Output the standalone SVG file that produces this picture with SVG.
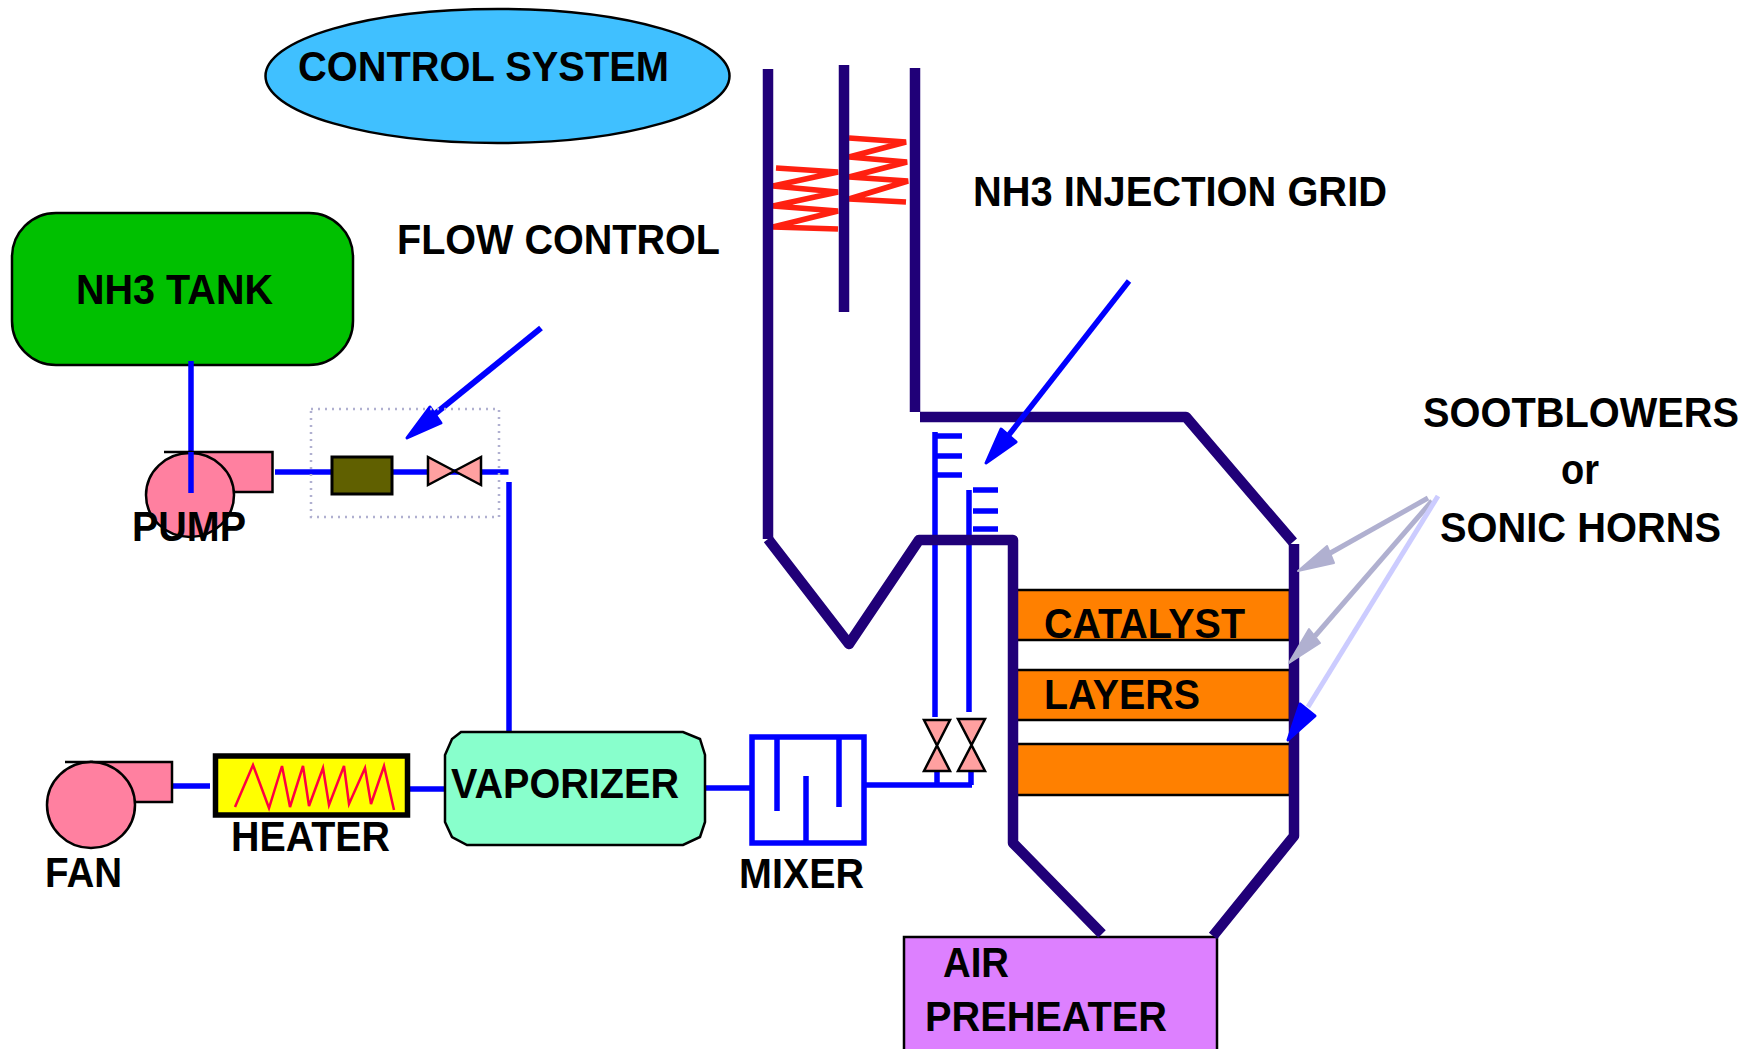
<svg xmlns="http://www.w3.org/2000/svg" width="1758" height="1049" viewBox="0 0 1758 1049">
<style>
text{font-family:"Liberation Sans",Arial,sans-serif;font-weight:700;font-size:42.500px;fill:#000}
.o{stroke:#000;stroke-width:2.5}
.pk{fill:#ff80a0;stroke:#000;stroke-width:2.5}
.v{fill:#ffa0a0;stroke:#000;stroke-width:2.5}
.b{fill:none;stroke:#0000ff;stroke-width:5.5}
.w{fill:none;stroke:#200078;stroke-width:10.500;stroke-linejoin:round}
.c{fill:none;stroke:#ff2010;stroke-width:5.5}
.l{fill:#ff8000;stroke:#000;stroke-width:2.5}
.h{fill:#0000ff;stroke:#0000ff;stroke-width:3;stroke-linejoin:round}
.g{fill:#b0b0d0;stroke:#b0b0d0;stroke-width:2;stroke-linejoin:round}
</style>
<g id="control-system"><ellipse cx="497.500" cy="76" rx="232" ry="67" fill="#40c0ff" class="o"/><text x="298" y="81" textLength="371" lengthAdjust="spacingAndGlyphs">CONTROL SYSTEM</text></g>
<g id="nh3-tank"><rect x="12" y="213" width="341" height="152" rx="44" fill="#00c000" class="o"/><text x="76" y="304" textLength="197" lengthAdjust="spacingAndGlyphs">NH3 TANK</text></g>
<g id="air-preheater"><rect x="904" y="937" width="313" height="125" fill="#dd80ff" class="o"/><text x="943" y="977" textLength="66" lengthAdjust="spacingAndGlyphs">AIR</text><text x="925" y="1031" textLength="242" lengthAdjust="spacingAndGlyphs">PREHEATER</text></g>
<g id="catalyst-layers">
<rect x="1015" y="590" width="275" height="50" class="l"/><rect x="1015" y="670" width="275" height="50" class="l"/><rect x="1015" y="744" width="275" height="51" class="l"/>
<text x="1044" y="638" textLength="201" lengthAdjust="spacingAndGlyphs">CATALYST</text><text x="1044" y="709" textLength="156" lengthAdjust="spacingAndGlyphs">LAYERS</text></g>
<g id="connectors">
<path class="b" d="M191 361V493"/>
<path class="b" d="M275 472H508.500"/>
<path class="b" d="M509 482V733"/>
<path class="b" d="M172 786H210M410 789H445M705 788H751"/>
<path class="b" d="M865 785H972M937 772V785M971 772V785"/>
<path class="b" d="M935 432V717M935 436H962M935 456H962M935 475H962"/>
<path class="b" d="M969 490V712M973 490H998M973 511H998M973 529H998"/>
</g>
<g id="coils">
<path class="c" d="M776 168L838 172L773 186L838 192L773 206L838 211L773 227L838 229"/>
<path class="c" d="M849 138L906 142L849 157L907 162L849 177L908 181L849 199L906 202"/>
</g>
<g id="reactor-walls">
<path class="w" d="M768 69V539"/><path class="w" d="M844 65V312"/><path class="w" d="M915 68V412"/>
<path class="w" d="M920 417H1186L1293 542"/>
<path class="w" d="M768 539L849 644L919 540H1013V843L1102 934"/>
<path class="w" d="M1294 544V836L1213 936"/>
</g>
<g id="arrows">
<g id="flow-arrow"><path d="M541 328L425 422" fill="none" stroke="#0000ff" stroke-width="6"/><path d="M407 438L430 407L441 423Z" class="h"/></g>
<g id="grid-arrow"><path d="M1129 281L1008 436" fill="none" stroke="#0000ff" stroke-width="5.500"/><path d="M986 463L1001 429L1016 442Z" class="h"/></g>
<g id="soot-arrows">
<path d="M1428 498L1325 556" fill="none" stroke="#b0b0d0" stroke-width="5"/><path d="M1298 571L1327 546L1334 563Z" class="g"/>
<path d="M1432 501L1315 636" fill="none" stroke="#b0b0d0" stroke-width="5"/><path d="M1289 663L1309 629L1320 643Z" class="g"/>
<path d="M1438 496L1308 707" fill="none" stroke="#ccccff" stroke-width="5"/><path d="M1288 740L1300 704L1315 716Z" class="h"/>
</g>
</g>
<g id="pump"><path class="pk" d="M190 452H272.500V492H190Z"/><path d="M164 452H192" fill="none" stroke="#000" stroke-width="2.500"/><ellipse cx="190" cy="495" rx="44" ry="42" class="pk"/><path d="M191 452V493" class="b"/><text x="132" y="541" textLength="114" lengthAdjust="spacingAndGlyphs">PUMP</text></g>
<g id="flow-control"><rect x="311" y="409" width="188" height="108" fill="none" stroke="#b0b0d0" stroke-width="2.500" stroke-dasharray="2 5"/><rect x="332" y="457" width="60" height="37" fill="#606000" stroke="#000" stroke-width="3"/><path class="v" d="M428 457V485L481 457V485Z"/></g>
<g id="fan"><path class="pk" d="M91 762H172V802H91Z"/><path d="M65 762H93" fill="none" stroke="#000" stroke-width="2.500"/><ellipse cx="91" cy="805" rx="44" ry="43" class="pk"/><text x="45" y="887" textLength="77" lengthAdjust="spacingAndGlyphs">FAN</text></g>
<g id="heater"><rect x="215.500" y="756" width="192" height="59" fill="#ffff00" stroke="#000" stroke-width="5.500"/><path d="M235 807L253 765L269 808L282 766L290 807L303 766L309 806L323 768L329 805L344 766L349 804L365 768L371 804L384 766L394 810" fill="none" stroke="#ff0040" stroke-width="2.500"/><text x="231" y="851" textLength="159" lengthAdjust="spacingAndGlyphs">HEATER</text></g>
<g id="vaporizer"><path d="M461 732H683L700 739L705 755V822L700 837L683 845H467L452 837L445 822V755L452 739Z" fill="#88ffcc" stroke="#000" stroke-width="2.500"/><text x="451" y="798" textLength="228" lengthAdjust="spacingAndGlyphs">VAPORIZER</text></g>
<g id="mixer"><path d="M752 737H864V843H752ZM777 737V811M806 843V776M839 737V807" class="b"/><text x="739" y="888" textLength="125" lengthAdjust="spacingAndGlyphs">MIXER</text></g>
<g id="valves"><path class="v" d="M924 720H950L924 771H950Z"/><path class="v" d="M958 719H985L958 771H985Z"/></g>
<g id="labels">
<text x="397" y="254" textLength="323" lengthAdjust="spacingAndGlyphs">FLOW CONTROL</text>
<text x="973" y="206" textLength="414" lengthAdjust="spacingAndGlyphs">NH3 INJECTION GRID</text>
<text x="1423" y="427" textLength="316" lengthAdjust="spacingAndGlyphs">SOOTBLOWERS</text>
<text x="1561" y="484" textLength="38" lengthAdjust="spacingAndGlyphs">or</text>
<text x="1440" y="542" textLength="281" lengthAdjust="spacingAndGlyphs">SONIC HORNS</text>
</g>
</svg>
